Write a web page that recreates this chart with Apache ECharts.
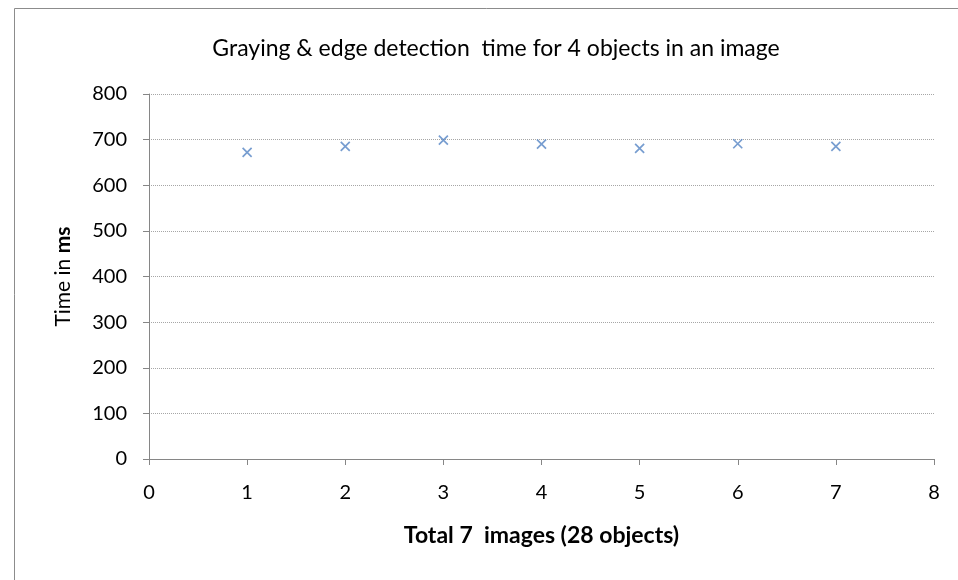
<!DOCTYPE html>
<html><head><meta charset="utf-8">
<script src="https://cdn.jsdelivr.net/npm/echarts@6/dist/echarts.min.js"></script>
<style>html,body{margin:0;padding:0;background:#fff}#c{width:958px;height:580px}</style>
</head><body><div id="c"></div>
<script>
const titleText = "Graying & edge detection  time for 4 objects in an image";
const xName = "Total 7  images (28 objects)";
const imageIndex = [1, 2, 3, 4, 5, 6, 7];
const timeMs = [672, 685, 699, 690, 681, 691, 685];
const yTicks = {min: 0, max: 800, interval: 100};
const xTicks = {min: 0, max: 8, interval: 1};

const font = "Lato";
const chart = echarts.init(document.getElementById('c'), null, {renderer: 'canvas'});
chart.setOption({
  animation: false,
  backgroundColor: '#fff',
  graphic: [{type: 'rect', shape: {x: 14.5, y: 8.5, width: 1000, height: 700},
    style: {fill: 'none', stroke: '#8c8c8c', lineWidth: 1}, silent: true}],
  title: {text: titleText, left: 491, top: 32, textAlign: 'center',
    textStyle: {fontFamily: font, fontSize: 23, fontWeight: 'normal', color: '#000'}},
  grid: {left: 149, right: 24, top: 94, bottom: 121},
  xAxis: {type: 'value', min: xTicks.min, max: xTicks.max, interval: xTicks.interval,
    name: xName, nameLocation: 'middle', nameGap: 65,
    nameTextStyle: {fontFamily: font, fontSize: 23, fontWeight: 'bold', color: '#000'},
    axisLine: {lineStyle: {color: '#868686', width: 1}},
    axisTick: {show: true, length: 6, inside: false, lineStyle: {color: '#868686'}},
    axisLabel: {fontFamily: font, fontSize: 20, color: '#000', margin: 24},
    splitLine: {show: false}},
  yAxis: {type: 'value', min: yTicks.min, max: yTicks.max, interval: yTicks.interval,
    name: '{n|Time in }{b|ms}', nameLocation: 'middle', nameGap: 75, nameRotate: 90,
    nameTextStyle: {fontFamily: font, fontSize: 21, color: '#000',
      rich: {n: {fontFamily: font, fontSize: 21, color: '#000'},
             b: {fontFamily: font, fontSize: 21, fontWeight: 'bold', color: '#000'}}},
    axisLine: {show: true, lineStyle: {color: '#868686', width: 1}},
    axisTick: {show: true, length: 6, lineStyle: {color: '#868686'}},
    axisLabel: {fontFamily: font, fontSize: 20, color: '#000', margin: 22},
    splitLine: {show: true, lineStyle: {color: '#a6a6a6', type: [1, 1], width: 1}}},
  series: [{type: 'scatter',
    data: imageIndex.map((x, i) => [x, timeMs[i]]),
    symbol: 'path://M0,0L10,10M10,0L0,10', symbolSize: 9,
    itemStyle: {color: 'transparent', borderColor: '#5584c4', borderWidth: 1.7}}]
});
</script></body></html>
